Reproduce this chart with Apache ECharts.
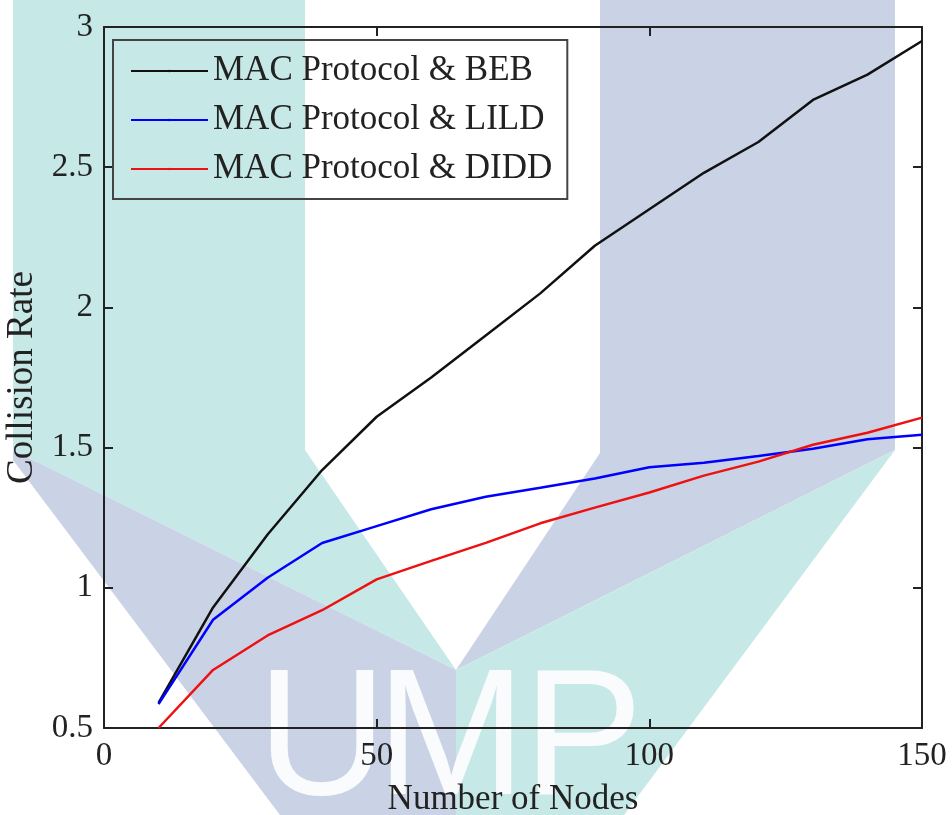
<!DOCTYPE html>
<html>
<head>
<meta charset="utf-8">
<script src="https://cdn.jsdelivr.net/npm/echarts@6/dist/echarts.min.js"></script>
<style>
  html, body { margin: 0; padding: 0; background: #fff; }
  #chart { width: 952px; height: 815px; }
</style>
</head>
<body>
<div id="chart"></div>
<script>
// number of nodes (x)
const nodes = [10, 20, 30, 40, 50, 60, 70, 80, 90, 100, 110, 120, 130, 140, 150];
// collision rate per scheme
const bebRate  = [0.59, 0.93, 1.19, 1.42, 1.61, 1.75, 1.90, 2.05, 2.22, 2.35, 2.48, 2.59, 2.74, 2.83, 2.95];
const lildRate = [0.585, 0.886, 1.036, 1.16, 1.22, 1.28, 1.325, 1.357, 1.39, 1.43, 1.446, 1.47, 1.496, 1.53, 1.546];
const diddRate = [0.50, 0.707, 0.83, 0.92, 1.03, 1.096, 1.16, 1.23, 1.286, 1.34, 1.40, 1.45, 1.51, 1.553, 1.607];
const seriesNames = ['MAC Protocol & BEB', 'MAC Protocol & LILD', 'MAC Protocol & DIDD'];

const serif = '"Liberation Serif", "Times New Roman", serif';
const ink = '#222';

const chart = echarts.init(document.getElementById('chart'));

// watermark behind the plot (UMP logo)
const teal = '#c6e9e7';
const slate = '#cad2e5';
const watermark = [
  { type: 'polygon', z: -10, shape: { points: [[13, 0], [305, 0], [305, 450], [456, 670], [13, 450]] }, style: { fill: teal } },
  { type: 'polygon', z: -10, shape: { points: [[600, 0], [895, 0], [895, 450], [456, 670], [600, 453]] }, style: { fill: slate } },
  { type: 'polygon', z: -10, shape: { points: [[13, 450], [456, 670], [456, 815], [280, 815], [13, 460]] }, style: { fill: slate } },
  { type: 'polygon', z: -10, shape: { points: [[895, 450], [624, 815], [456, 815], [456, 670]] }, style: { fill: teal } }
];
['U', 'M', 'P'].forEach((ch, i) => {
  watermark.push({
    type: 'text', z: -9, x: [322, 451, 583][i], y: 744,
    style: { text: ch, fontSize: 180, fontFamily: '"Liberation Sans", Arial, sans-serif', fill: '#f9fbfc', align: 'center', verticalAlign: 'middle' }
  });
});

function toPairs(vals) {
  return nodes.map((n, i) => [n, vals[i]]);
}

const axisLine = { show: true, onZero: false, lineStyle: { color: ink, width: 2 } };
const axisTick = { show: true, inside: true, length: 9, lineStyle: { color: ink, width: 2 } };

chart.setOption({
  backgroundColor: '#fff',
  animation: false,
  graphic: { elements: watermark },
  grid: { left: 104, right: 30, top: 27, bottom: 87, outerBoundsMode: 'none' },
  legend: {
    data: seriesNames,
    orient: 'vertical',
    left: 113,
    top: 40,
    padding: [11, 15, 10, 17],
    itemWidth: 77,
    itemHeight: 3,
    itemGap: 9,
    borderColor: '#444',
    borderWidth: 2,
    textStyle: { fontFamily: serif, fontSize: 35, color: ink, lineHeight: 40 }
  },
  xAxis: [
    {
      type: 'value', min: 0, max: 150, interval: 50, position: 'bottom',
      axisLine, axisTick, splitLine: { show: false },
      axisLabel: { showMinLabel: true, showMaxLabel: true, margin: 12, fontFamily: serif, fontSize: 33, color: ink },
      name: 'Number of Nodes', nameLocation: 'middle', nameGap: 54,
      nameTextStyle: { fontFamily: serif, fontSize: 35, color: ink }
    },
    {
      type: 'value', min: 0, max: 150, interval: 50, position: 'top',
      axisLine, axisTick, splitLine: { show: false }, axisLabel: { show: false }
    }
  ],
  yAxis: [
    {
      type: 'value', min: 0.5, max: 3, interval: 0.5, position: 'left',
      axisLine, axisTick, splitLine: { show: false },
      axisLabel: { showMinLabel: true, showMaxLabel: true, margin: 11, fontFamily: serif, fontSize: 33, color: ink },
      name: 'Collision Rate', nameLocation: 'middle', nameGap: 60,
      nameTextStyle: { fontFamily: serif, fontSize: 37, color: ink }
    },
    {
      type: 'value', min: 0.5, max: 3, interval: 0.5, position: 'right',
      axisLine, axisTick, splitLine: { show: false }, axisLabel: { show: false }
    }
  ],
  series: [
    { name: seriesNames[0], type: 'line', data: toPairs(bebRate), symbol: 'none', legendIcon: 'rect', lineStyle: { color: '#111', width: 2.5 }, itemStyle: { color: '#111' } },
    { name: seriesNames[1], type: 'line', data: toPairs(lildRate), symbol: 'none', legendIcon: 'rect', lineStyle: { color: '#0000ff', width: 2.5 }, itemStyle: { color: '#0000ff' } },
    { name: seriesNames[2], type: 'line', data: toPairs(diddRate), symbol: 'none', legendIcon: 'rect', lineStyle: { color: '#ee1111', width: 2.5 }, itemStyle: { color: '#ee1111' } }
  ]
});
</script>
</body>
</html>
